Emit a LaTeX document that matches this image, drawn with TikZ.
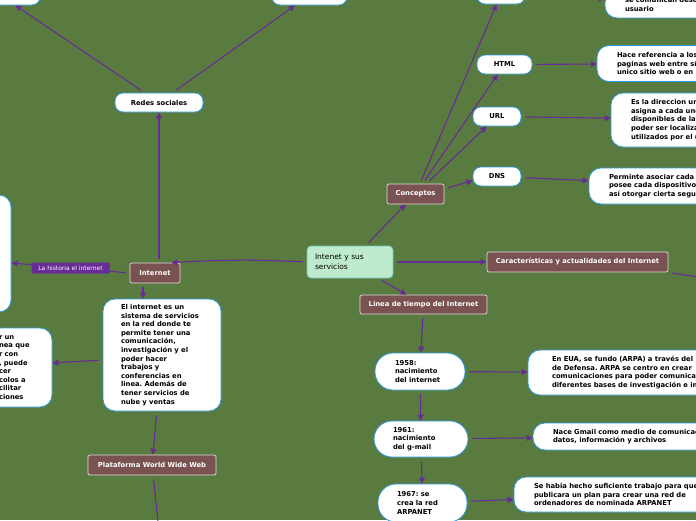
\documentclass[tikz,border=0pt]{standalone}
\usepackage{fontspec}
\setmainfont{DejaVu Sans}
\usetikzlibrary{arrows.meta}
\definecolor{fondo}{RGB}{90,123,63}
\definecolor{flecha}{RGB}{104,44,150}
\definecolor{cafe}{RGB}{122,82,82}
\definecolor{azul}{RGB}{45,155,224}
\definecolor{menta}{RGB}{190,235,205}
\definecolor{mentaborde}{RGB}{110,195,185}
\frenchspacing
\begin{document}
\begin{tikzpicture}[x=1pt,y=-1pt,
	conn/.style={draw=flecha,line width=1.1pt,-{Triangle[length=6pt,width=6pt]},shorten <=4pt},
	tema/.style={draw=white!80!cafe,line width=0.7pt,fill=cafe,text=white,rounded corners=2pt,font=\fontsize{6.8}{8.6}\selectfont\bfseries,inner sep=0pt},
	burbuja/.style={draw=azul,line width=0.8pt,fill=white,rounded corners=8pt,font=\fontsize{6.8}{8.6}\selectfont\bfseries,inner sep=0pt},
	nota/.style={burbuja,rounded corners=12pt,align=left},
	fecha/.style={nota,rounded corners=18pt},
	etiqueta/.style={fill=flecha,text=white,rounded corners=1pt,font=\fontsize{6}{7}\selectfont,inner sep=0pt,minimum width=78pt,minimum height=11pt}]
	\useasboundingbox (0,0) rectangle (696,520);
	\clip (0,0) rectangle (696,520);
	\fill[fondo] (0,0) rectangle (696,520);

	\node[burbuja,minimum width=80pt,minimum height=20pt] (izqarriba) at (0,-5) {};
	\node[burbuja,minimum width=75pt,minimum height=20pt] (centroarriba) at (309.5,-5) {};
	\node[burbuja,minimum width=88pt,minimum height=19pt] (redes) at (159,102.5) {Redes sociales};
	\node[tema,minimum width=50pt,minimum height=20pt] (internet) at (155,273) {Internet};
	\node[nota,minimum width=91pt,minimum height=117pt] (historia) at (-34.5,253.5) {};
	\node[nota,text width=34pt,inner xsep=19pt,minimum height=79pt] (protocolos) at (16,367.5) {r un\\nea que\\r con\\, puede\\cer\\colos a\\cilitar\\ciones};
	\node[nota,text width=82pt,inner xsep=18pt,minimum height=112pt] (definicion) at (162,355) {El internet es un\\sistema de servicios\\en la red donde te\\permite tener una\\comunicación,\\investigación y el\\poder hacer\\trabajos y\\conferencias en\\linea. Además de\\tener servicios de\\nube y ventas};
	\node[tema,minimum width=128pt,minimum height=20pt] (plataforma) at (152,465) {Plataforma World Wide Web};
	\coordinate (plataformasig) at (161,550);

	\node[draw=mentaborde,line width=0.8pt,fill=menta,rounded corners=4pt,minimum height=32pt,text width=70pt,align=left,inner xsep=8pt,font=\fontsize{7.5}{10}\selectfont] (centro) at (350,262) {Intenet y sus\\servicios};

	\node[tema,minimum width=57pt,minimum height=20pt] (conceptos) at (415.5,194) {Conceptos};
	\node[burbuja,minimum width=48pt,minimum height=20pt] (protocolo) at (501,-6) {};
	\node[nota,text width=200pt,inner xsep=20pt,minimum height=27pt] (protocolodef) at (725,4.4) {se comunican desde el\\usuario};
	\node[burbuja,minimum width=55pt,minimum height=19pt] (html) at (504.5,64.5) {HTML};
	\node[nota,text width=200pt,inner xsep=20pt,minimum height=36pt] (htmldef) at (717,63.5) {Hace referencia a los\\paginas web entre sí\\unico sitio web o en};
	\node[burbuja,minimum width=48pt,minimum height=19pt] (url) at (497,116.5) {URL};
	\node[nota,text width=200pt,inner xsep=20pt,minimum height=54pt] (urldef) at (731,120) {Es la direccion unica\\asigna a cada uno\\disponibles de la red\\poder ser localizados\\utilizados por el usuario};
	\node[burbuja,minimum width=48pt,minimum height=19pt] (dns) at (497,176.5) {DNS};
	\node[nota,text width=200pt,inner xsep=20pt,minimum height=36pt] (dnsdef) at (709,186) {Perminte asociar cada\\posee cada dispositivo\\así otorgar cierta seguridad};

	\node[tema,minimum width=181pt,minimum height=20pt] (caracteristicas) at (577.5,262) {Características y actualidades del Internet};
	\coordinate (caracteristicassig) at (760,287);

	\node[tema,minimum width=127pt,minimum height=19pt] (linea) at (423.5,304.5) {Linea de tiempo del Internet};
	\node[fecha,text width=50pt,inner xsep=20pt,minimum height=37pt] (n1958) at (420,371.5) {1958:\\nacimiento\\del internet};
	\node[nota,text width=220pt,inner xsep=24pt,minimum height=45pt] (d1958) at (662,372.5) {En EUA, se fundo (ARPA) a través del\\de Defensa. ARPA se centro en crear\\comunicaciones para poder comunicar\\diferentes bases de investigación e in};
	\node[fecha,text width=56pt,inner xsep=19pt,minimum height=36pt] (n1961) at (421,439) {1961:\\nacimiento\\del g-mail};
	\node[nota,text width=220pt,inner xsep=20pt,minimum height=27pt] (d1961) at (663,436.5) {Nace Gmail como medio de comunicación\\datos, información y archivos};
	\node[fecha,text width=51pt,inner xsep=19pt,minimum height=38pt] (n1967) at (422.5,503) {1967: se\\crea la red\\ARPANET};
	\node[nota,text width=220pt,inner xsep=20pt,minimum height=35pt] (d1967) at (644,494.5) {Se habia hecho suficiente trabajo para que\\publicara un plan para crear una red de\\ordenadores de nominada ARPANET};

	\draw[conn] (redes) -- (izqarriba);
	\draw[conn] (redes) -- (centroarriba);
	\draw[conn] (internet.north -| redes.south) -- (redes.south);
	\draw[conn] (internet.west) -- node[etiqueta] {La historia el internet} ([yshift=-9.5pt]historia.east);
	\draw[conn] ([xshift=-12pt]internet.south) -- ([xshift=-19pt]definicion.north);
	\draw[conn] ([yshift=-5pt]definicion.west) -- ([yshift=4.5pt]protocolos.east);
	\draw[conn] (definicion) -- (plataforma);
	\draw[conn] (plataforma) -- (plataformasig);
	\draw[conn] (centro.west) to[bend right=3] ([xshift=-9pt]internet.north east);
	\draw[conn] (centro) -- (conceptos);
	\draw[conn] (centro) -- (caracteristicas);
	\draw[conn] (centro) -- (linea);
	\draw[conn] (conceptos) -- (protocolo);
	\draw[conn] (conceptos) -- (html);
	\draw[conn] (conceptos) -- (url);
	\draw[conn] ([yshift=5pt]conceptos.east) -- ([yshift=-4pt]dns.west);
	\draw[conn] (protocolo) -- (protocolodef);
	\draw[conn] (html) -- (htmldef);
	\draw[conn] (url) -- (urldef);
	\draw[conn] (dns) -- (dnsdef);
	\draw[conn] (caracteristicas.south east) -- (caracteristicassig);
	\draw[conn] (linea) -- (n1958);
	\draw[conn] (n1958) -- (d1958);
	\draw[conn] (n1958) -- (n1961);
	\draw[conn] (n1961) -- (d1961);
	\draw[conn] (n1961) -- (n1967);
	\draw[conn] (n1967) -- (d1967);
\end{tikzpicture}
\end{document}
